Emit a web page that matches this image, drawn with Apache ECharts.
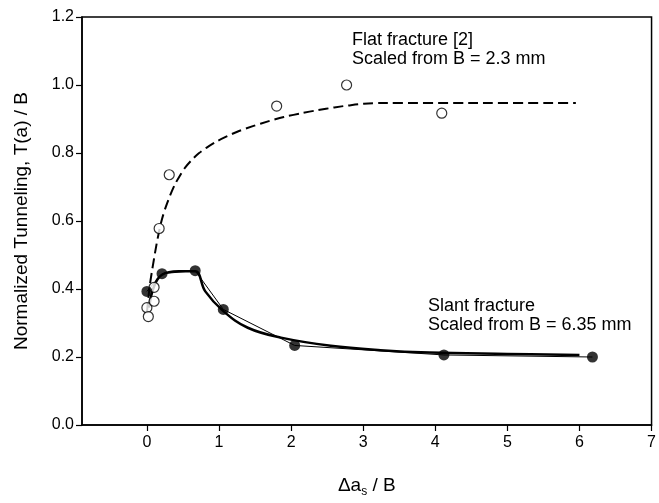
<!DOCTYPE html>
<html>
<head>
<meta charset="utf-8">
<script src="https://cdn.jsdelivr.net/npm/echarts@6/dist/echarts.min.js"></script>
<style>
  html, body { margin: 0; padding: 0; background: #fff; }
  #chart { width: 659px; height: 503px; }
</style>
</head>
<body>
<div id="chart"></div>
<script>
// Flat fracture measurements (open circles), scaled from B = 2.3 mm
const flatX = [0.00, 0.02, 0.10, 0.10, 0.17, 0.31, 1.80, 2.77, 4.09];
const flatY = [0.345, 0.319, 0.364, 0.405, 0.578, 0.736, 0.938, 1.000, 0.917];

// Fitted trend through the flat-fracture data (dashed)
const flatFitX = [0.00, 0.02, 0.04, 0.07, 0.10, 0.13, 0.17, 0.21, 0.26, 0.32, 0.39, 0.46, 0.53, 0.62, 0.72,
                  0.83, 0.95, 1.10, 1.27, 1.47, 1.68, 1.90, 2.14, 2.37, 2.60, 2.80, 3.01, 3.30, 4.50, 5.95];
const flatFitY = [0.330, 0.372, 0.410, 0.452, 0.490, 0.527, 0.570, 0.606, 0.640, 0.674, 0.708, 0.734, 0.757, 0.779, 0.799,
                  0.816, 0.832, 0.848, 0.864, 0.879, 0.893, 0.906, 0.917, 0.926, 0.934, 0.940, 0.945, 0.947, 0.947, 0.947];

// Slant fracture measurements (filled circles), scaled from B = 6.35 mm
const slantX = [0.00, 0.21, 0.67, 1.06, 2.05, 4.12, 6.18];
const slantY = [0.393, 0.445, 0.454, 0.340, 0.234, 0.206, 0.200];

// Fitted trend through the slant-fracture data (thick solid)
const slantFitX = [0.03, 0.10, 0.21, 0.44, 0.67, 0.81, 1.06, 1.40, 1.86, 2.55, 3.24, 3.92, 5.00, 6.00];
const slantFitY = [0.345, 0.408, 0.442, 0.452, 0.452, 0.393, 0.335, 0.286, 0.257, 0.233, 0.220, 0.213, 0.209, 0.206];

// Axis ticks
const xTicks = [0, 1, 2, 3, 4, 5, 6, 7];

const pairs = (xs, ys) => xs.map((x, i) => [x, ys[i]]);
const FONT = 'Liberation Sans, Arial, Helvetica, sans-serif';

const chart = echarts.init(document.getElementById('chart'), null, { renderer: 'canvas' });

chart.setOption({
  animation: false,
  backgroundColor: '#fff',
  grid: {
    left: 82, right: 3, top: 17, bottom: 75,
    show: true, borderColor: '#000', borderWidth: 1.5, backgroundColor: 'transparent'
  },
  xAxis: {
    type: 'value',
    min: -0.9, max: 7,
    name: '{a|Δa}{s|s}{a| / B}',
    nameLocation: 'middle',
    nameGap: 48,
    nameTextStyle: {
      rich: {
        a: { fontFamily: FONT, fontSize: 19, color: '#000' },
        s: { fontFamily: FONT, fontSize: 12, color: '#000', padding: [13, 0, 0, 0] }
      }
    },
    axisLine: { show: true, onZero: false, lineStyle: { color: '#000', width: 1.5 } },
    axisTick: { show: true, inside: false, length: 6, customValues: xTicks, lineStyle: { color: '#000', width: 1.2 } },
    axisLabel: { customValues: xTicks, color: '#000', fontFamily: FONT, fontSize: 16, margin: 10 },
    splitLine: { show: false }
  },
  yAxis: {
    type: 'value',
    min: 0, max: 1.2, interval: 0.2,
    name: 'Normalized Tunneling, T(a) / B',
    nameLocation: 'middle',
    nameGap: 51,
    nameTextStyle: { fontFamily: FONT, fontSize: 19, color: '#000' },
    axisLine: { show: true, onZero: false, lineStyle: { color: '#000', width: 1.5 } },
    axisTick: { show: true, inside: false, length: 6, lineStyle: { color: '#000', width: 1.2 } },
    axisLabel: {
      color: '#000', fontFamily: FONT, fontSize: 16, margin: 8,
      formatter: v => v.toFixed(1)
    },
    splitLine: { show: false }
  },
  series: [
    {
      name: 'Flat fit',
      type: 'line',
      data: pairs(flatFitX, flatFitY),
      smooth: 0.3,
      showSymbol: false,
      lineStyle: { color: '#000', width: 2, type: [10, 5] },
      z: 2
    },
    {
      name: 'Slant data link',
      type: 'line',
      data: pairs(slantX, slantY),
      showSymbol: false,
      lineStyle: { color: '#000', width: 1 },
      z: 2
    },
    {
      name: 'Slant fit',
      type: 'line',
      data: pairs(slantFitX, slantFitY),
      smooth: 0.4,
      showSymbol: false,
      lineStyle: { color: '#000', width: 2.5 },
      z: 3
    },
    {
      name: 'Flat fracture',
      type: 'scatter',
      data: pairs(flatX, flatY),
      symbol: 'circle',
      symbolSize: 10,
      itemStyle: { color: '#fff', borderColor: '#000', borderWidth: 1.2 },
      z: 4
    },
    {
      name: 'Slant fracture',
      type: 'scatter',
      data: pairs(slantX, slantY),
      symbol: 'circle',
      symbolSize: 11,
      itemStyle: { color: '#000', borderColor: '#000', borderWidth: 0 },
      z: 5
    }
  ],
  graphic: [
    {
      type: 'text', left: 352, top: 31,
      style: { text: 'Flat fracture [2]\nScaled from B = 2.3 mm', fill: '#000', font: '18px ' + FONT, lineHeight: 19 }
    },
    {
      type: 'text', left: 428, top: 297,
      style: { text: 'Slant fracture\nScaled from B = 6.35 mm', fill: '#000', font: '18px ' + FONT, lineHeight: 19 }
    }
  ]
});
</script>
</body>
</html>
